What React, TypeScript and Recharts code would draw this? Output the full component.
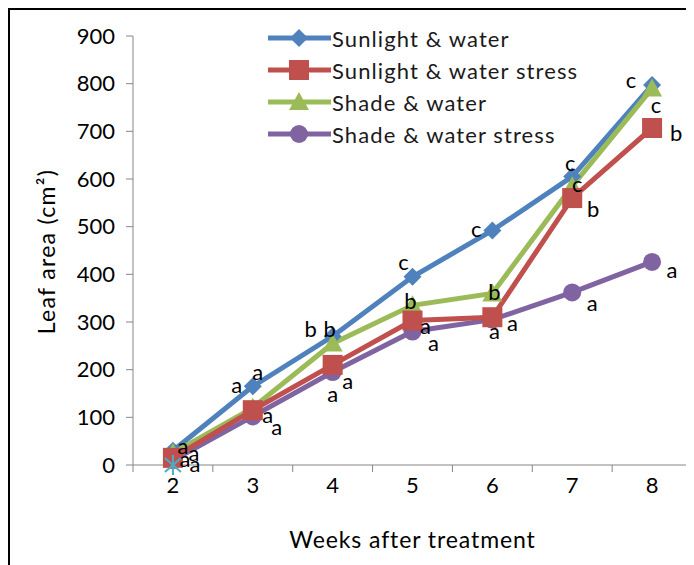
import React from 'react';
import { LineChart, Line, XAxis, YAxis, Legend, LabelList, Label } from 'recharts';

// weeks after treatment
const WEEKS = [2, 3, 4, 5, 6, 7, 8];

// leaf area (cm2) per treatment
const SUN_WATER = [30, 165, 270, 395, 492, 605, 797];
const SUN_STRESS = [15, 115, 210, 303, 310, 560, 707];
const SHADE_WATER = [25, 120, 255, 335, 360, 585, 790];
const SHADE_STRESS = [10, 102, 195, 280, 305, 362, 426];
const EXTRA = [0, null, null, null, null, null, null];

// significance letters
const SUN_WATER_LETTERS = ['a', 'a', 'b', 'c', 'c', 'c', 'c'];
const SUN_STRESS_LETTERS = ['a', 'a', 'a', 'a', 'a', 'b', 'b'];
const SHADE_WATER_LETTERS = ['a', 'a', 'b', 'b', 'b', 'c', 'c'];
const SHADE_STRESS_LETTERS = ['a', 'a', 'a', 'a', 'a', 'a', 'a'];

const Y_TICKS = [0, 100, 200, 300, 400, 500, 600, 700, 800, 900];
const X_TICKS = [1.5, 2, 2.5, 3, 3.5, 4, 4.5, 5, 5.5, 6, 6.5, 7, 7.5, 8, 8.5];

const FONT = 'Lato, "Open Sans", sans-serif';
const AXIS = '#868686';

const data = WEEKS.map((w, i) => ({
  week: w,
  sw: SUN_WATER[i],
  ss: SUN_STRESS[i],
  hw: SHADE_WATER[i],
  hs: SHADE_STRESS[i],
  ex: EXTRA[i],
  swL: SUN_WATER_LETTERS[i],
  ssL: SUN_STRESS_LETTERS[i],
  hwL: SHADE_WATER_LETTERS[i],
  hsL: SHADE_STRESS_LETTERS[i],
}));

// where each letter sits relative to its point
const OFFSETS: Record<string, number[][]> = {
  sw: [[10, -5], [-16, -2], [-22, -8], [-9, -15], [-16, -2], [-2, -14], [-21, -6]],
  hw: [[21, -1], [5, -36], [-3, -15], [-2, -5], [2, -2], [5, -3], [4, 16]],
  ss: [[12, 1], [15, 4], [15, 16], [13, 5], [2, 13], [21, 10], [24, 5]],
  hs: [[22, 3], [24, 10], [0, 21], [21, 11], [20, 3], [20, 10], [20, 8]],
};

type Shape = 'diamond' | 'square' | 'triangle' | 'circle' | 'star';

const marker = (shape: Shape, color: string, cx: number, cy: number, key?: string) => {
  switch (shape) {
    case 'diamond':
      return <polygon key={key} points={`${cx},${cy - 9} ${cx + 9},${cy} ${cx},${cy + 9} ${cx - 9},${cy}`} fill={color} />;
    case 'square':
      return <rect key={key} x={cx - 10} y={cy - 10} width={20} height={20} fill={color} />;
    case 'triangle':
      return <polygon key={key} points={`${cx},${cy - 10} ${cx + 10},${cy + 8} ${cx - 10},${cy + 8}`} fill={color} />;
    case 'circle':
      return <circle key={key} cx={cx} cy={cy} r={9} fill={color} />;
    default:
      return (
        <g key={key} stroke={color} strokeWidth={2}>
          <line x1={cx} y1={cy - 10} x2={cx} y2={cy + 10} />
          <line x1={cx - 8} y1={cy - 7} x2={cx + 8} y2={cy + 7} />
          <line x1={cx - 8} y1={cy + 7} x2={cx + 8} y2={cy - 7} />
        </g>
      );
  }
};

const SERIES: { key: string; name: string; color: string; shape: Shape }[] = [
  { key: 'sw', name: 'Sunlight & water', color: '#4F81BD', shape: 'diamond' },
  { key: 'ss', name: 'Sunlight & water stress', color: '#C0504D', shape: 'square' },
  { key: 'hw', name: 'Shade & water', color: '#9BBB59', shape: 'triangle' },
  { key: 'hs', name: 'Shade & water stress', color: '#8064A2', shape: 'circle' },
];

// drawing order: later on top
const DRAW_ORDER = ['sw', 'hw', 'hs', 'ss'];

const makeDot = (shape: Shape, color: string) => (props: any) => {
  const { cx, cy, index, value } = props;
  if (cx == null || cy == null || value == null) return <g key={`d-${index}`} />;
  return marker(shape, color, cx, cy, `d-${index}`);
};

const makeLetter = (key: string) => (props: any) => {
  const { x, y, value, index } = props;
  if (x == null || y == null) return null;
  const [dx, dy] = OFFSETS[key][index] || [0, 0];
  return (
    <text key={`l-${key}-${index}`} x={x + dx} y={y + dy} textAnchor="middle" dominantBaseline="central"
      fontSize={22} fontFamily={FONT} fill="#000">
      {value}
    </text>
  );
};

const XTick = (props: any) => {
  const { x, y, payload } = props;
  const v = payload.value;
  if (Number.isInteger(v)) {
    return (
      <text x={x} y={y + 12} dy="0.71em" textAnchor="middle" fontSize={22} fontFamily={FONT} fill="#000">
        {v}
      </text>
    );
  }
  return <line x1={x} y1={y} x2={x} y2={y + 7} stroke={AXIS} />;
};

const LegendBox = () => (
  <div style={{ fontFamily: FONT }}>
    {SERIES.map((s) => (
      <div key={s.key} style={{ display: 'flex', alignItems: 'center', height: 32 }}>
        <svg width={64} height={32}>
          <line x1={0} y1={16} x2={63} y2={16} stroke={s.color} strokeWidth={5} />
          {marker(s.shape, s.color, 31, 16)}
        </svg>
        <span style={{ fontSize: 22, letterSpacing: 1.1, color: '#1a1a1a', whiteSpace: 'nowrap', marginLeft: 0 }}>{s.name}</span>
      </div>
    ))}
  </div>
);

export default function App() {
  return (
    <div style={{ position: 'relative', width: 686, height: 557, borderLeft: '2px solid #000', borderTop: '2px solid #000', boxSizing: 'border-box', fontFamily: FONT }}>
      <div style={{ position: 'absolute', left: -2, top: -2 }}>
        <LineChart width={686} height={557} data={data} margin={{ top: 28, right: 2, bottom: 60, left: 0 }}>
          <XAxis
            dataKey="week"
            type="number"
            domain={[1.5, 8.5]}
            ticks={X_TICKS}
            interval={0}
            height={40}
            tickSize={0}
            tickMargin={0}
            tickLine={false}
            tick={<XTick />}
            axisLine={{ stroke: AXIS }}
          >
            <Label
              content={({ viewBox }: any) => (
                <text x={viewBox.x + viewBox.width / 2} y={viewBox.y + 83} textAnchor="middle" fontSize={23} letterSpacing={0.9} fontFamily={FONT} fill="#000">
                  Weeks after treatment
                </text>
              )}
            />
          </XAxis>
          <YAxis
            type="number"
            domain={[0, 900]}
            ticks={Y_TICKS}
            width={125}
            tickSize={7}
            tickMargin={11}
            interval={0}
            axisLine={{ stroke: AXIS }}
            tickLine={{ stroke: AXIS }}
            tick={{ fontSize: 22, fontFamily: FONT, fill: '#000' }}
          >
            <Label
              content={({ viewBox }: any) => {
                const cx = viewBox.x + 38;
                const cy = viewBox.y + viewBox.height / 2 + 1;
                return (
                  <text x={cx} y={cy} transform={`rotate(-90 ${cx} ${cy})`} textAnchor="middle" dominantBaseline="central" fontSize={23} letterSpacing={1.3} fontFamily={FONT} fill="#000">
                    Leaf area (cm²)
                  </text>
                );
              }}
            />
          </YAxis>
          <Legend
            layout="vertical"
            align="center"
            verticalAlign="middle"
            content={<LegendBox />}
            wrapperStyle={{ left: 260, top: 14, width: 380 }}
          />
          {DRAW_ORDER.map((k) => {
            const s = SERIES.find((x) => x.key === k)!;
            return (
              <Line
                key={k}
                dataKey={k}
                name={s.name}
                stroke={s.color}
                strokeWidth={5}
                dot={makeDot(s.shape, s.color)}
                activeDot={false}
                isAnimationActive={false}
              >
                <LabelList dataKey={`${k}L`} content={makeLetter(k)} />
              </Line>
            );
          })}
          <Line
            dataKey="ex"
            stroke="none"
            legendType="none"
            dot={makeDot('star', '#4BACC6')}
            activeDot={false}
            isAnimationActive={false}
          />
        </LineChart>
      </div>
    </div>
  );
}
